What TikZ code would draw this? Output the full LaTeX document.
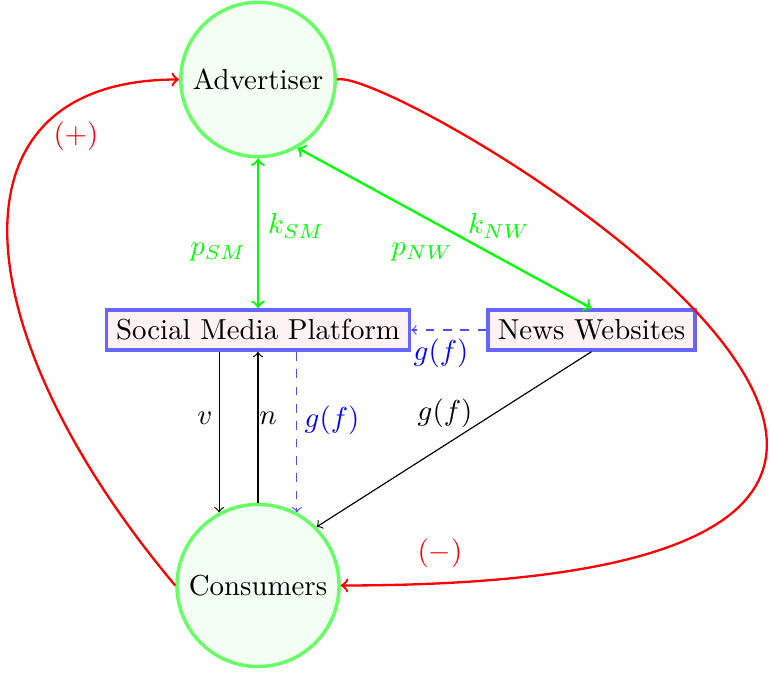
\documentclass[tikz,border=0pt]{standalone}
\usetikzlibrary{calc}
\begin{document}
\begin{tikzpicture}[x=0.3461pt,y=0.3461pt,
  roundnode/.style={circle, draw=green!60, fill=green!5, very thick},
  squarednode/.style={rectangle, draw=blue!60, fill=red!5, very thick},
  gline/.style={green, thick, <->},
  fb/.style={red, thick, ->},
  bdash/.style={blue!70, dashed, ->},
  lbl/.style={inner sep=0pt}]
\useasboundingbox (0,0) rectangle (771,-673);
\node[roundnode] (adv) at (258,-79.5) {Advertiser};
\node[squarednode] (smp) at (258,-330) {Social Media Platform};
\node[squarednode] (nw) at (591.5,-330) {News Websites};
\node[roundnode] (cons) at (258,-585.5) {Consumers};

\draw[gline] (adv.south) -- (smp.north);
\draw[gline] (adv.-60) -- (nw.north);
\draw[bdash] (nw.west) -- (smp.east);
\draw[->] (cons.118 |- smp.south) -- (cons.118);
\draw[->] (cons.north) -- (smp.south);
\draw[bdash] (cons.62 |- smp.south) -- (cons.62);
\draw[->] (nw.south) -- (cons.north east);
\draw[fb] (cons.west) .. controls +(130:330) and +(180:240) .. (adv.west);
\draw[fb] (adv.east) .. controls +(15:60) and +(0:930) .. (cons.east);

\node[lbl, green] (ksm) at (296,-226) {$k_{SM}$};
\node[lbl, green] (psm) at (218,-252) {$p_{SM}$};
\node[lbl, green] (knw) at (499,-226) {$k_{NW}$};
\node[lbl, green] (pnw) at (422,-252) {$p_{NW}$};
\node[lbl, blue] (gtop) at (441,-353) {$g(f)$};
\node[lbl] (lv) at (205,-418) {$v$};
\node[lbl] (ln) at (268,-418) {$n$};
\node[lbl, blue] (gmid) at (332,-420) {$g(f)$};
\node[lbl] (gnw) at (445,-413) {$g(f)$};
\node[lbl, red] (plus) at (76,-136) {$(+)$};
\node[lbl, red] (minus) at (440,-553) {$(-)$};
\end{tikzpicture}
\end{document}
